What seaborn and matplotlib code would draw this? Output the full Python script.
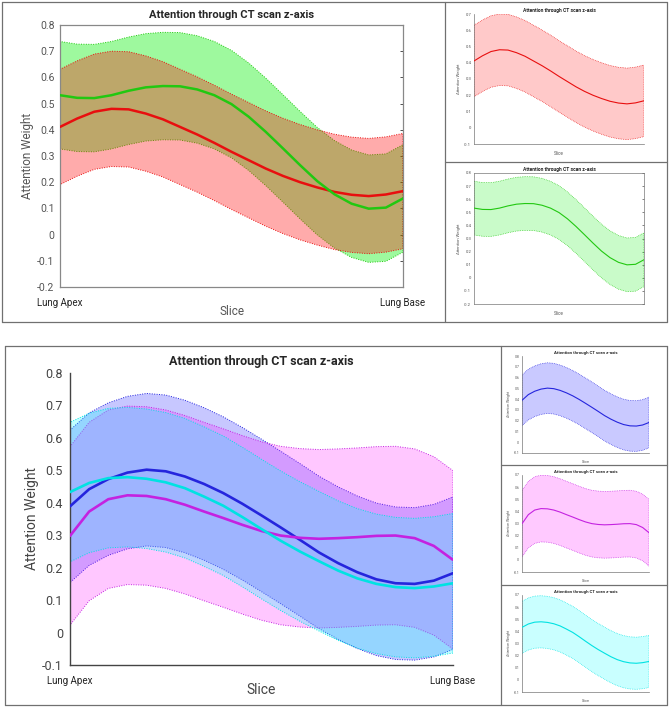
import matplotlib
matplotlib.use("Agg")
import matplotlib.pyplot as plt
import seaborn as sns
from matplotlib.lines import Line2D


# x positions along the scan (0 = lung apex, 1 = lung base)
SLICE = [0.00, 0.05, 0.10, 0.15, 0.20, 0.25, 0.30, 0.35, 0.40, 0.45, 0.50,
         0.55, 0.60, 0.65, 0.70, 0.75, 0.80, 0.85, 0.90, 0.95, 1.00]

# mean attention curves
RED_MEAN = [0.411, 0.443, 0.469, 0.480, 0.478, 0.462, 0.440, 0.411, 0.382, 0.350, 0.316,
            0.284, 0.252, 0.224, 0.200, 0.180, 0.163, 0.152, 0.147, 0.153, 0.166]
GREEN_MEAN = [0.532, 0.522, 0.521, 0.532, 0.549, 0.562, 0.567, 0.566, 0.554, 0.532, 0.498,
              0.450, 0.392, 0.329, 0.265, 0.204, 0.154, 0.118, 0.099, 0.103, 0.138]
BLUE_MEAN = [0.389, 0.442, 0.473, 0.493, 0.502, 0.497, 0.481, 0.458, 0.430, 0.397, 0.361,
             0.324, 0.286, 0.247, 0.214, 0.186, 0.164, 0.152, 0.150, 0.160, 0.183]
MAGENTA_MEAN = [0.298, 0.373, 0.411, 0.423, 0.421, 0.411, 0.394, 0.373, 0.353, 0.332, 0.313,
                0.299, 0.292, 0.289, 0.291, 0.294, 0.298, 0.299, 0.291, 0.267, 0.224]
CYAN_MEAN = [0.433, 0.461, 0.476, 0.479, 0.474, 0.463, 0.445, 0.419, 0.391, 0.356, 0.319,
             0.283, 0.250, 0.220, 0.191, 0.167, 0.150, 0.140, 0.137, 0.142, 0.152]

# half-width of each shaded band
RED_SPREAD = 0.22
GREEN_SPREAD = 0.205
BLUE_SPREAD = 0.235
MAGENTA_SPREAD = 0.275
CYAN_SPREAD = 0.215

TITLE = "Attention through CT scan z-axis"
END_LABELS = ["Lung Apex", "Lung Base"]
TICKS_M02_08 = [-0.2, -0.1, 0, 0.1, 0.2, 0.3, 0.4, 0.5, 0.6, 0.7, 0.8]
TICKS_M01_08 = [-0.1, 0, 0.1, 0.2, 0.3, 0.4, 0.5, 0.6, 0.7, 0.8]
TICKS_M01_07 = [-0.1, 0, 0.1, 0.2, 0.3, 0.4, 0.5, 0.6, 0.7]

# (line colour, fill colour)
RED = ("#e80f0f", "#ff0000")
GREEN = ("#22c811", "#00f000")
BLUE = ("#2525dd", "#0000ff")
MAGENTA = ("#c422e0", "#ff00ff")
CYAN = ("#00e2e2", "#00ffff")

W, H = 669, 707
FONT = "Roboto"


def px_rect(l, t, r, b):
    return [l / W, 1 - b / H, (r - l) / W, (b - t) / H]


def band(ax, mean, spread, colors, alpha, lw_edge):
    lo = [m - spread for m in mean]
    hi = [m + spread for m in mean]
    ax.fill_between(SLICE, lo, hi, facecolor=colors[1], alpha=alpha, edgecolor="none")
    ax.fill_between(SLICE, lo, hi, facecolor="none", edgecolor=colors[0],
                    linestyle=(0, (1, 1.5)), linewidth=lw_edge)


def mean_line(ax, mean, colors, lw):
    sns.lineplot(x=SLICE, y=mean, ax=ax, color=colors[0], linewidth=lw, zorder=5)


def small_panel(rect, mean, spread, colors, ticks, box, fs):
    ax = fig.add_axes(px_rect(*rect))
    band(ax, mean, spread, colors, 0.21, 0.5)
    mean_line(ax, mean, colors, 0.8)
    ax.set_xlim(0, 1)
    ax.set_ylim(ticks[0], ticks[-1])
    ax.set_yticks(ticks)
    ax.set_yticklabels([f"{v:g}" for v in ticks], fontsize=fs, color="#555555")
    ax.set_xticks([])
    ax.tick_params(axis="y", direction="in", length=1.5, width=0.4, pad=2,
                   right=box)
    for s in ["top", "right"]:
        ax.spines[s].set_visible(box)
    for s in ax.spines.values():
        s.set_color("#777777")
        s.set_linewidth(0.5)
    ax.set_title(TITLE, fontsize=fs + 0.6, fontweight="bold", pad=1.5)
    ax.set_ylabel("Attention Weight", fontsize=fs, color="#555555", labelpad=2)
    ax.set_xlabel("Slice", fontsize=fs + 0.3, color="#555555", labelpad=5)
    return ax


sns.set_theme(style="white")
plt.rcParams["font.family"] = [FONT, "DejaVu Sans"]

fig = plt.figure(figsize=(W / 100, H / 100), dpi=100)


def fig_line(x0, y0, x1, y1):
    fig.add_artist(Line2D([x0 / W, x1 / W], [1 - y0 / H, 1 - y1 / H],
                          transform=fig.transFigure, color="#707070", linewidth=0.9))


# panel frames
for (l, t, r, b) in [(2, 2, 667, 322), (5, 346, 667, 705)]:
    fig_line(l, t, r, t)
    fig_line(l, b, r, b)
    fig_line(l, t, l, b)
    fig_line(r, t, r, b)
fig_line(445, 2, 445, 322)
fig_line(445, 162, 667, 162)
fig_line(501, 346, 501, 705)
fig_line(501, 465, 667, 465)
fig_line(501, 585, 667, 585)

# ---------------- top main panel ----------------
ax = fig.add_axes(px_rect(60, 25, 403, 287))
band(ax, GREEN_MEAN, GREEN_SPREAD, GREEN, 0.38, 0.7)
band(ax, RED_MEAN, RED_SPREAD, RED, 0.33, 0.7)
mean_line(ax, RED_MEAN, RED, 1.8)
mean_line(ax, GREEN_MEAN, GREEN, 1.8)
ax.set_xlim(0, 1)
ax.set_ylim(-0.2, 0.8)
ax.set_yticks(TICKS_M02_08)
ax.set_yticklabels([f"{v:g}" for v in TICKS_M02_08], fontsize=7.5, color="#555555")
ax.set_xticks([0, 1])
ax.set_xticklabels(END_LABELS, fontsize=7, color="#222222")
ax.tick_params(axis="y", direction="in", length=2.5, width=0.6, right=True, pad=4,
               color="#333333")
ax.tick_params(axis="x", length=0, pad=8)
for s in ax.spines.values():
    s.set_color("#888888")
    s.set_linewidth(0.9)
ax.set_title(TITLE, fontsize=8, fontweight="bold", pad=5)
ax.set_ylabel("Attention Weight", fontsize=8.5, color="#555555", labelpad=2)
ax.set_xlabel("Slice", fontsize=8.5, color="#555555", labelpad=-2)

# ---------------- top right panels ----------------
small_panel((474, 14, 644, 144), RED_MEAN, RED_SPREAD, RED, TICKS_M01_07, False, 3)
small_panel((474, 173, 644, 304), GREEN_MEAN, GREEN_SPREAD, GREEN, TICKS_M02_08, True, 3)

# ---------------- bottom main panel ----------------
ax = fig.add_axes(px_rect(70, 373, 453, 665))
band(ax, BLUE_MEAN, BLUE_SPREAD, BLUE, 0.22, 0.7)
band(ax, MAGENTA_MEAN, MAGENTA_SPREAD, MAGENTA, 0.22, 0.7)
band(ax, CYAN_MEAN, CYAN_SPREAD, CYAN, 0.25, 0.7)
mean_line(ax, BLUE_MEAN, BLUE, 1.9)
mean_line(ax, MAGENTA_MEAN, MAGENTA, 1.9)
mean_line(ax, CYAN_MEAN, CYAN, 1.9)
ax.set_xlim(0, 1)
ax.set_ylim(-0.1, 0.8)
ax.set_yticks(TICKS_M01_08)
ax.set_yticklabels([f"{v:g}" for v in TICKS_M01_08], fontsize=9, color="#444444")
ax.set_xticks([0, 1])
ax.set_xticklabels(END_LABELS, fontsize=7, color="#222222")
ax.tick_params(axis="y", direction="in", length=3, width=0.8, pad=5, color="#333333")
ax.tick_params(axis="x", length=0, pad=8)
for s in ["top", "right"]:
    ax.spines[s].set_visible(False)
for s in ["left", "bottom"]:
    ax.spines[s].set_color("#444444")
    ax.spines[s].set_linewidth(1.0)
ax.set_title(TITLE, fontsize=9, fontweight="bold", pad=6)
ax.set_ylabel("Attention Weight", fontsize=10, color="#444444", labelpad=2)
ax.set_xlabel("Slice", fontsize=10, color="#444444", labelpad=-2)

# ---------------- bottom right panels ----------------
small_panel((522, 356, 649, 453), BLUE_MEAN, BLUE_SPREAD, BLUE, TICKS_M01_08, False, 2.5)
small_panel((522, 475, 649, 572), MAGENTA_MEAN, MAGENTA_SPREAD, MAGENTA, TICKS_M01_07, False, 2.5)
small_panel((522, 595, 649, 692), CYAN_MEAN, CYAN_SPREAD, CYAN, TICKS_M01_07, False, 2.5)

fig.savefig("out.png", dpi=100)
